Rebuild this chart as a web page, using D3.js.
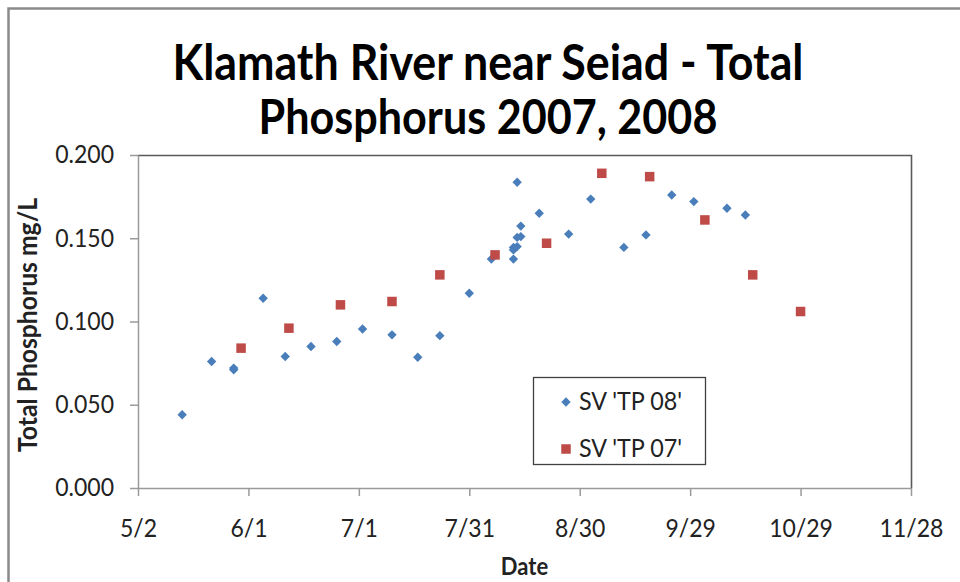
<!DOCTYPE html>
<html>
<head>
<meta charset="utf-8">
<script src="https://cdn.jsdelivr.net/npm/d3@7"></script>
<style>
  html, body { margin: 0; padding: 0; background: #fff; }
  svg { display: block; font-family: Lato, "Open Sans", sans-serif; }
</style>
</head>
<body>
<svg id="chart" width="960" height="582"></svg>
<script>
// Sampling dates (month/day) and total phosphorus (mg/L), 2008 season
const tp08Dates = ["5/14","5/22","5/28","5/28","6/5","6/11","6/18","6/25","7/2","7/10",
  "7/17","7/23","7/31","8/6","8/12","8/12","8/12","8/13","8/13","8/14","8/14","8/13",
  "8/19","8/27","9/2","9/11","9/17","9/24","9/30","10/9","10/14"];
const tp08Values = [0.044,0.076,0.072,0.071,0.114,0.079,0.085,0.088,0.0955,0.092,
  0.0785,0.0915,0.117,0.1375,0.1375,0.143,0.1445,0.145,0.1505,0.151,0.1573,0.1836,
  0.165,0.1525,0.1735,0.1445,0.152,0.176,0.172,0.168,0.164];

// 2007 season
const tp07Dates = ["5/30","6/12","6/26","7/10","7/23","8/7","8/21","9/5","9/18","10/3","10/16","10/29"];
const tp07Values = [0.084,0.096,0.110,0.112,0.128,0.140,0.147,0.189,0.187,0.161,0.128,0.106];

// Axis tick labels
const xTickLabels = ["5/2","6/1","7/1","7/31","8/30","9/29","10/29","11/28"];
const yTickValues = [0, 0.05, 0.10, 0.15, 0.20];

const seriesNames = ["SV 'TP 08'", "SV 'TP 07'"];
const titleLines = ["Klamath River near Seiad - Total", "Phosphorus 2007, 2008"];

const parseMD = s => d3.timeParse("%m/%d/%Y")(s + "/2008");

const svg = d3.select("#chart");
const plot = { left: 138, right: 911, top: 155, bottom: 488 };

const x = d3.scaleTime()
  .domain([parseMD(xTickLabels[0]), parseMD(xTickLabels[xTickLabels.length - 1])])
  .range([plot.left, plot.right]);
const y = d3.scaleLinear().domain([0, 0.2]).range([plot.bottom, plot.top]);

// Size a text element so it spans the given width
function fitWidth(sel, width) {
  const node = sel.node();
  const fs = parseFloat(sel.attr("font-size"));
  const w = node.getComputedTextLength();
  sel.attr("font-size", (fs * width / w).toFixed(2));
}

// Make glyphs taller while keeping the current width (narrow face look)
function condense(sel, factor) {
  sel.each(function () {
    const t = d3.select(this);
    const w = this.getComputedTextLength();
    const fs = parseFloat(t.attr("font-size"));
    t.attr("font-size", (fs * factor).toFixed(2))
      .attr("textLength", w.toFixed(2))
      .attr("lengthAdjust", "spacingAndGlyphs");
  });
}

// Outer chart frame
svg.append("rect")
  .attr("x", 8.5).attr("y", 8.5).attr("width", 980).attr("height", 600)
  .attr("fill", "none").attr("stroke", "#8a8a8a").attr("stroke-width", 2.5);

// Title
const titleY = [80, 134];
const titleW = [631, 459];
titleLines.forEach((t, i) => {
  const el = svg.append("text")
    .attr("x", 488).attr("y", titleY[i])
    .attr("text-anchor", "middle")
    .attr("font-weight", "bold").attr("font-size", 40)
    .attr("fill", "#000")
    .text(t);
  fitWidth(el, titleW[i]);
  condense(el, 1.1);
});

// Plot frame: top and right edges
svg.append("path")
  .attr("d", `M${plot.left},${plot.top + 0.5}H${plot.right + 0.5}V${plot.bottom}`)
  .attr("fill", "none").attr("stroke", "#5a5a5a").attr("stroke-width", 1.6);

// Y axis
const yAxis = svg.append("g")
  .attr("transform", `translate(${plot.left},0)`)
  .call(d3.axisLeft(y).tickValues(yTickValues).tickFormat(d3.format(".3f"))
    .tickSizeInner(8).tickSizeOuter(0).tickPadding(16));
yAxis.select(".domain").attr("stroke", "#9a9a9a").attr("stroke-width", 1.5);
yAxis.selectAll(".tick line").attr("stroke", "#9a9a9a").attr("stroke-width", 1.5);
yAxis.selectAll(".tick text")
  .attr("font-size", 23).attr("fill", "#222")
  .attr("font-family", "Lato, sans-serif")
  .call(condense, 1.08);

// X axis
const xAxis = svg.append("g")
  .attr("transform", `translate(0,${plot.bottom})`)
  .call(d3.axisBottom(x).tickValues(xTickLabels.map(parseMD))
    .tickFormat(d => xTickLabels[xTickLabels.findIndex(s => +parseMD(s) === +d)])
    .tickSizeInner(8).tickSizeOuter(0).tickPadding(23));
xAxis.select(".domain").attr("stroke", "#9a9a9a").attr("stroke-width", 1.5);
xAxis.selectAll(".tick line").attr("stroke", "#9a9a9a").attr("stroke-width", 1.5);
xAxis.selectAll(".tick text")
  .attr("font-size", 23).attr("fill", "#222")
  .attr("font-family", "Lato, sans-serif")
  .call(condense, 1.08);

// Axis titles
const xTitle = svg.append("text")
  .attr("x", 524.5).attr("y", 575)
  .attr("text-anchor", "middle").attr("font-weight", "bold").attr("font-size", 22)
  .attr("fill", "#222").text("Date");
condense(xTitle, 1.08);

const yTitle = svg.append("text")
  .attr("transform", "translate(37,325) rotate(-90)")
  .attr("text-anchor", "middle").attr("font-weight", "bold").attr("font-size", 22)
  .attr("fill", "#222").text("Total Phosphorus mg/L");
fitWidth(yTitle, 254);
condense(yTitle, 1.06);

// Markers
const blue = "#4a7ebb", red = "#be4b48";
const diamond = d3.symbol().type(d3.symbolDiamond2).size(56);

const tp08 = tp08Dates.map((d, i) => ({ date: parseMD(d), value: tp08Values[i] }));
const tp07 = tp07Dates.map((d, i) => ({ date: parseMD(d), value: tp07Values[i] }));

svg.append("g").selectAll("path").data(tp08).join("path")
  .attr("d", diamond)
  .attr("transform", d => `translate(${x(d.date)},${y(d.value)})`)
  .attr("fill", blue);

const sq = 9.5;
svg.append("g").selectAll("rect").data(tp07).join("rect")
  .attr("x", d => x(d.date) - sq / 2).attr("y", d => y(d.value) - sq / 2)
  .attr("width", sq).attr("height", sq)
  .attr("fill", red);

// Legend
const legend = svg.append("g");
legend.append("rect")
  .attr("x", 533.5).attr("y", 377.5).attr("width", 172).attr("height", 87)
  .attr("fill", "#fff").attr("stroke", "#404040").attr("stroke-width", 1.3);
legend.append("path").attr("d", diamond)
  .attr("transform", "translate(566,402)").attr("fill", blue);
legend.append("rect")
  .attr("x", 566 - sq / 2).attr("y", 449 - sq / 2).attr("width", sq).attr("height", sq)
  .attr("fill", red);
seriesNames.forEach((n, i) => {
  const t = legend.append("text")
    .attr("x", 579).attr("y", 410 + i * 47)
    .attr("font-size", 22).attr("fill", "#222").text(n);
  fitWidth(t, 103);
  condense(t, 1.06);
});
</script>
</body>
</html>
